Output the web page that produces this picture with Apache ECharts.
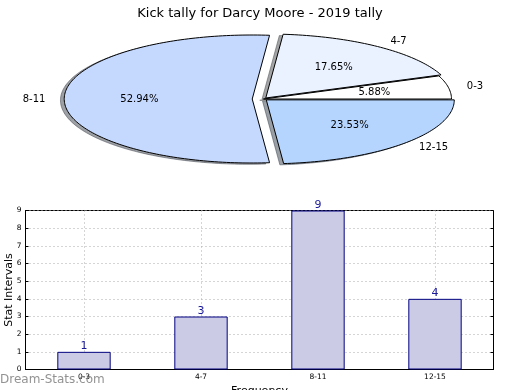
<!DOCTYPE html>
<html>
<head>
<meta charset="utf-8">
<script src="https://cdn.jsdelivr.net/npm/echarts@6/dist/echarts.min.js"></script>
<style>html,body{margin:0;padding:0;background:#fff;}#c{width:520px;height:390px;}</style>
</head>
<body>
<div id="c"></div>
<script>
const titleText = 'Kick tally for Darcy Moore - 2019 tally';
const categories = ['0-3', '4-7', '8-11', '12-15'];
const values = [1, 3, 9, 4];
const explode = [0, 0.02, 0.06, 0.02];
const pieColors = ['#ffffff', '#ebf2ff', '#c5d8fe', '#b5d5fe'];
const yTicks = [0, 9, 1];

const PIE = { cx: 263.5, cy: 99, rx: 188, ry: 64 };
const FONT = 'DejaVu Sans';

function shade(hex) {
  const r = parseInt(hex.slice(1, 3), 16), g = parseInt(hex.slice(3, 5), 16), b = parseInt(hex.slice(5, 7), 16);
  return 'rgba(' + Math.round(r * 0.3) + ',' + Math.round(g * 0.3) + ',' + Math.round(b * 0.3) + ',0.5)';
}

function renderWedge(params, api) {
  const i = params.dataIndex;
  const total = values.reduce((a, b) => a + b, 0);
  let cum = 0;
  for (let k = 0; k < i; k++) cum += values[k];
  const v = api.value(0);
  const a0 = cum / total * 2 * Math.PI;
  const a1 = (cum + v) / total * 2 * Math.PI;
  const mid = (a0 + a1) / 2;
  const ox = PIE.cx + explode[i] * PIE.rx * Math.cos(mid);
  const oy = PIE.cy - explode[i] * PIE.ry * Math.sin(mid);
  const pts = [[ox, oy]];
  const n = Math.max(8, Math.ceil((a1 - a0) / (2 * Math.PI) * 300));
  for (let k = 0; k <= n; k++) {
    const a = a0 + (a1 - a0) * k / n;
    pts.push([ox + PIE.rx * Math.cos(a), oy - PIE.ry * Math.sin(a)]);
  }
  const sh = pts.map(p => [p[0] - 0.02 * PIE.rx, p[1] + 0.02 * PIE.ry]);
  const lx = ox + 1.1 * PIE.rx * Math.cos(mid), ly = oy - 1.1 * PIE.ry * Math.sin(mid);
  const px = ox + 0.6 * PIE.rx * Math.cos(mid), py = oy - 0.6 * PIE.ry * Math.sin(mid);
  const sc = shade(pieColors[i]);
  return {
    type: 'group',
    children: [
      { type: 'polygon', z2: 0, shape: { points: sh }, style: { fill: sc, stroke: sc, lineWidth: 1 } },
      { type: 'polygon', z2: 10, shape: { points: pts }, style: { fill: pieColors[i], stroke: '#000', lineWidth: 1 } },
      { type: 'text', z2: 20, x: lx, y: ly, style: { text: categories[i], align: Math.cos(mid) > 0 ? 'left' : 'right', verticalAlign: 'middle', fontSize: 10, fontFamily: FONT, fill: '#000' } },
      { type: 'text', z2: 20, x: px, y: py, style: { text: (v / total * 100).toFixed(2) + '%', align: 'center', verticalAlign: 'middle', fontSize: 10, fontFamily: FONT, fill: '#000' } }
    ]
  };
}

const dotted = { type: [1, 3], color: '#aaaaaa', width: 1 };

const chart = echarts.init(document.getElementById('c'), null, { renderer: 'canvas' });
chart.setOption({
  animation: false,
  backgroundColor: '#fff',
  title: {
    text: titleText, left: 'center', top: 2,
    textStyle: { fontSize: 13, fontWeight: 'normal', fontFamily: FONT, color: '#000' }
  },
  grid: {
    left: 25.5, right: 26.5, top: 210.5, bottom: 20.5,
    containLabel: false, outerBoundsMode: 'none',
    show: true, borderColor: '#000', borderWidth: 1, backgroundColor: 'transparent'
  },
  xAxis: [{
    type: 'category', data: categories,
    axisLine: { lineStyle: { color: '#000' } },
    axisTick: { inside: true, alignWithLabel: true, length: 3, lineStyle: { color: '#000' } },
    axisLabel: { fontSize: 7.5, color: '#000', margin: 4, fontFamily: FONT },
    splitLine: { show: true, alignWithLabel: true, lineStyle: dotted },
    name: 'Frequency', nameLocation: 'middle', nameGap: 16, nameMoveOverlap: false,
    nameTextStyle: { fontSize: 11, color: '#000', fontFamily: FONT, verticalAlign: 'top' }
  }],
  yAxis: [{
    type: 'value', min: yTicks[0], max: yTicks[1], interval: yTicks[2],
    axisLine: { show: true, lineStyle: { color: '#000' } },
    axisTick: { show: true, inside: true, length: 3, lineStyle: { color: '#000' } },
    axisLabel: { fontSize: 7.5, color: '#000', margin: 4, fontFamily: FONT },
    splitLine: { show: true, lineStyle: dotted },
    name: 'Stat Intervals', nameLocation: 'middle', nameGap: 11, nameMoveOverlap: false,
    nameTextStyle: { fontSize: 11, color: '#000', fontFamily: FONT }
  }, {
    type: 'value', position: 'right', min: yTicks[0], max: yTicks[1], interval: yTicks[2],
    axisLine: { show: false },
    axisTick: { show: true, inside: true, length: 3, lineStyle: { color: '#000' } },
    axisLabel: { show: false },
    splitLine: { show: false }
  }],
  series: [{
    type: 'custom',
    coordinateSystem: 'none',
    data: values.map(v => [v]),
    renderItem: renderWedge,
    silent: true
  }, {
    type: 'bar',
    data: values,
    barWidth: '45.6%',
    itemStyle: { color: '#cbcbe6', borderColor: '#000080', borderWidth: 1 },
    label: { show: true, position: 'top', distance: 0, fontSize: 11, color: '#1a1a99', fontFamily: FONT }
  }],
  graphic: [{
    type: 'text', left: 0, top: 374, z: 100,
    style: { text: 'Dream-Stats.com', fontSize: 12, fontFamily: FONT, fill: 'rgba(110,110,110,0.75)' }
  }]
});
</script>
</body>
</html>
